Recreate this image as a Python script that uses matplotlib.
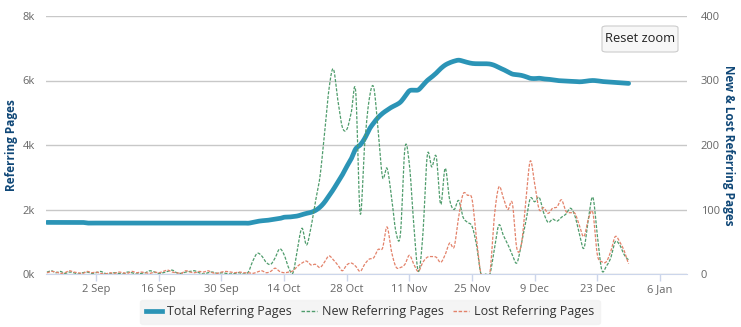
import matplotlib
matplotlib.use("Agg")
import matplotlib.pyplot as plt
import matplotlib.dates as mdates
from matplotlib.lines import Line2D
from matplotlib.patches import FancyBboxPatch
import numpy as np
import pandas as pd

plt.rcParams['font.family'] = ['Open Sans', 'DejaVu Sans']

# daily series, starting 22 Aug 2019
start_date = "2019-08-22"

total_pages = (
    [1600] * 9 + [1580] * 36 +
    [1575, 1600, 1630, 1650, 1660, 1680, 1700, 1720, 1760, 1765,
     1780, 1800, 1840, 1880, 1910, 1970, 2070, 2220, 2420, 2620,
     2850, 3070, 3330, 3570, 3880, 4000, 4200, 4480, 4680, 4850,
     4980, 5080, 5170, 5240, 5330, 5500, 5680, 5700, 5710, 5850,
     6000, 6110, 6230, 6370, 6480, 6550, 6600, 6630, 6600, 6560,
     6530, 6520, 6520, 6520, 6510, 6470, 6400, 6340, 6270, 6200,
     6180, 6160, 6120, 6070, 6060, 6070, 6050, 6040, 6020, 6000,
     5990, 5980, 5975, 5970, 5960, 5970, 5990, 6000, 5990, 5970,
     5960, 5950, 5940, 5930, 5920, 5910]
)

new_pages = (
    [3, 5, 2, 4, 1, 3, 2, 0, 2, 3, 1, 2, 4, 1, 0, 2, 1, 0, 3, 2,
     0, 1, 2, 5, 3, 1, 2, 4, 6, 2, 1, 3, 4, 5, 2, 0, 2, 3, 1, 2,
     1, 0, 1, 2, 0] +
    [3, 20, 32, 28, 18, 15, 25, 39, 30, 10,
     2, 40, 71, 45, 72, 112, 150, 215, 285, 318,
     270, 228, 224, 250, 283, 94, 200, 270, 290, 225,
     150, 164, 120, 65, 62, 195, 170, 75, 4, 60,
     184, 166, 182, 108, 164, 115, 100, 114, 88, 80,
     74, 45, 0, 0, 0, 40, 76, 60, 46, 30,
     17, 45, 80, 117, 112, 119, 95, 80, 85, 82,
     88, 93, 102, 90, 62, 40, 85, 119, 60, 6,
     12, 25, 50, 45, 30, 22]
)

lost_pages = (
    [2, 4, 3, 1, 2, 5, 3, 2, 1, 4, 2, 3, 1, 0, 2, 1, 3, 2, 1, 4,
     2, 3, 2, 1, 3, 2, 4, 6, 3, 2, 1, 5, 3, 2, 4, 3, 5, 2, 1, 3,
     4, 3, 2, 3, 2] +
    [2, 1, 3, 5, 2, 4, 9, 4, 2, 3,
     5, 12, 17, 20, 14, 15, 10, 18, 28, 22,
     14, 5, 14, 17, 12, 4, 15, 23, 25, 38,
     40, 73, 35, 11, 10, 15, 29, 15, 4, 18,
     26, 27, 26, 18, 30, 48, 42, 88, 124, 122,
     116, 55, 0, 0, 2, 90, 135, 118, 100, 110,
     40, 45, 110, 175, 140, 100, 103, 94, 102, 104,
     115, 97, 95, 94, 75, 58, 85, 95, 30, 19,
     19, 35, 58, 50, 36, 16]
)

y_left_ticks = [0, 2000, 4000, 6000, 8000]
y_right_ticks = [0, 100, 200, 300, 400]
x_tick_dates = ["2019-09-02", "2019-09-16", "2019-09-30", "2019-10-14",
                "2019-10-28", "2019-11-11", "2019-11-25", "2019-12-09",
                "2019-12-23", "2020-01-06"]

dates = pd.date_range(start_date, periods=len(total_pages), freq="D")

TOTAL_C = "#2b94b6"
NEW_C = "#4f9c6c"
LOST_C = "#e3826a"
TITLE_C = "#0f4777"
LABEL_C = "#666666"


def spline(xv, yv, n=16):
    """Catmull-Rom curve through the points, like a Highcharts spline."""
    xv = np.asarray(xv, float)
    yv = np.asarray(yv, float)
    yp = np.concatenate([[yv[0]], yv, [yv[-1]]])
    t = np.linspace(0, 1, n, endpoint=False)
    h00 = 2 * t**3 - 3 * t**2 + 1
    h10 = t**3 - 2 * t**2 + t
    h01 = -2 * t**3 + 3 * t**2
    h11 = t**3 - t**2
    xs, ys = [], []
    for i in range(len(xv) - 1):
        p0, p1, p2, p3 = yp[i], yp[i + 1], yp[i + 2], yp[i + 3]
        m1 = (p2 - p0) / 2
        m2 = (p3 - p1) / 2
        xs.append(xv[i] + t * (xv[i + 1] - xv[i]))
        ys.append(h00 * p1 + h10 * m1 + h01 * p2 + h11 * m2)
    xs.append([xv[-1]])
    ys.append([yv[-1]])
    return np.concatenate(xs), np.concatenate(ys)


xnum = mdates.date2num(dates)

fig = plt.figure(figsize=(7.41, 3.27), dpi=100)
ax = fig.add_axes([46 / 741, 53 / 327, 641 / 741, 258 / 327])
ax2 = ax.twinx()

sx, sy = spline(xnum, total_pages)
ax.plot(sx, sy, color=TOTAL_C, lw=3.4, solid_capstyle="round", zorder=3)

sx, sy = spline(xnum, new_pages)
ax2.plot(sx, sy, color=NEW_C, lw=0.9, ls=(0, (2.5, 1.2)))
sx, sy = spline(xnum, lost_pages)
ax2.plot(sx, sy, color=LOST_C, lw=0.9, ls=(0, (2.5, 1.2)))

ax.set_xlim(mdates.date2num(pd.Timestamp("2019-08-21 19:00")),
            mdates.date2num(pd.Timestamp("2020-01-12 01:00")))
ax.set_ylim(0, 8000)
ax2.set_ylim(0, 400)

ax.set_yticks(y_left_ticks)
ax.set_yticklabels([f"{v // 1000}k" for v in y_left_ticks])
ax2.set_yticks(y_right_ticks)
ax2.set_yticklabels([str(v) for v in y_right_ticks])

xt = pd.to_datetime(x_tick_dates)
ax.set_xticks(mdates.date2num(xt))
ax.set_xticklabels([f"{d.day} {d.strftime('%b')}" for d in xt])

for a in (ax, ax2):
    for s in a.spines.values():
        s.set_visible(False)
ax.spines["bottom"].set_visible(True)
ax.spines["bottom"].set_color("#ccd6eb")
ax.spines["bottom"].set_zorder(5)

ax.grid(axis="y", color="#c8c8c8", lw=1)
ax.set_axisbelow(True)
ax.tick_params(axis="x", colors="#ccd6eb", length=5, width=1, pad=2,
               labelcolor=LABEL_C, labelsize=8)
ax.tick_params(axis="y", length=0, pad=8, labelcolor=LABEL_C, labelsize=8)
ax2.tick_params(axis="y", length=0, pad=10, labelcolor=LABEL_C, labelsize=8)

ax.set_ylabel("Referring Pages", color=TITLE_C, fontsize=8.5,
              fontweight="bold", va="center")
ax.yaxis.set_label_coords((12 - 46) / 641, 0.5)
ax2.set_ylabel("New & Lost Referring Pages", color=TITLE_C, fontsize=8.5,
               fontweight="bold", rotation=270, va="center")
ax2.yaxis.set_label_coords((728 - 46) / 641, 0.5)

# reset zoom button
btn = FancyBboxPatch((602 / 741, 1 - 52 / 327), 76 / 741, 26 / 327,
                     boxstyle="round,pad=0,rounding_size=0.006",
                     transform=fig.transFigure, facecolor="#f7f7f7",
                     edgecolor="#cccccc", lw=0.8, zorder=10)
fig.patches.append(btn)
fig.text(640 / 741, 1 - 39 / 327, "Reset zoom", ha="center", va="center",
         fontsize=9.3, color="#222222", zorder=11)

handles = [
    Line2D([], [], color=TOTAL_C, lw=3.4),
    Line2D([], [], color=NEW_C, lw=1, ls=(0, (2.5, 1.2))),
    Line2D([], [], color=LOST_C, lw=1, ls=(0, (2.5, 1.2))),
]
leg = fig.legend(handles, ["Total Referring Pages", "New Referring Pages",
                           "Lost Referring Pages"],
                 loc="center", bbox_to_anchor=(370 / 741, 1 - 312 / 327),
                 ncol=3, fontsize=9, frameon=True, fancybox=True,
                 handlelength=1.3, handletextpad=0.4, columnspacing=0.7,
                 borderpad=0.45, borderaxespad=0)
leg.get_frame().set_facecolor("#f2f2f2")
leg.get_frame().set_edgecolor("#f2f2f2")
for txt in leg.get_texts():
    txt.set_color("#333333")

fig.savefig("out.png", dpi=100)
